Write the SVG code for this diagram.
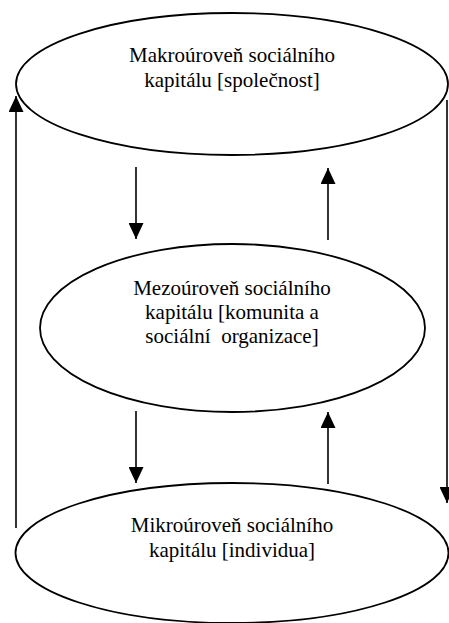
<svg xmlns="http://www.w3.org/2000/svg" width="449" height="623" viewBox="0 0 449 623">
  <style>
    .node ellipse { fill: #ffffff; stroke: #000000; stroke-width: 1.8; }
    .node text { font-family: "Liberation Serif", "Times New Roman", serif; font-size: 21px; fill: #000000; text-anchor: middle; white-space: pre; }
    #connectors path { fill: none; stroke: #000000; stroke-width: 1.6; marker-end: url(#ah); }
  </style>
  <defs>
    <marker id="ah" viewBox="0 0 16 15" refX="16" refY="7.5" markerWidth="16" markerHeight="15" orient="auto" markerUnits="userSpaceOnUse">
      <path d="M0,0 L16,7.5 L0,15 Z" fill="#000000"/>
    </marker>
  </defs>
  <rect width="449" height="623" fill="#ffffff"/>
  <g id="macro" class="node">
    <ellipse cx="232" cy="84" rx="216" ry="71"/>
    <text x="232" y="62">Makroúroveň sociálního</text>
    <text x="232" y="87">kapitálu [společnost]</text>
  </g>
  <g id="meso" class="node">
    <ellipse cx="232.5" cy="328" rx="192.5" ry="84"/>
    <text x="232" y="295">Mezoúroveň sociálního</text>
    <text x="232" y="319">kapitálu [komunita a</text>
    <text x="232" y="343" xml:space="preserve">sociální  organizace]</text>
  </g>
  <g id="micro" class="node">
    <ellipse cx="232" cy="553" rx="216.5" ry="70"/>
    <text x="232" y="532">Mikroúroveň sociálního</text>
    <text x="232" y="557">kapitálu [individua]</text>
  </g>
  <g id="connectors">
    <path d="M16,528 L16,96"/>
    <path d="M447,100 L447,503"/>
    <path d="M136,167 L136,239"/>
    <path d="M328,240 L328,168"/>
    <path d="M136,411 L136,483"/>
    <path d="M328,484 L328,412"/>
  </g>
</svg>
